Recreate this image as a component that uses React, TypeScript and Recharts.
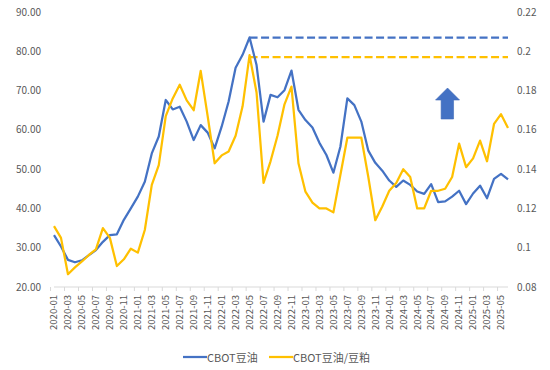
import React from "react";
import {
  LineChart,
  Line,
  XAxis,
  YAxis,
  Legend,
  ReferenceLine,
  ReferenceDot,
} from "recharts";

const months = [
  "2020-01", "2020-02", "2020-03", "2020-04", "2020-05", "2020-06", "2020-07", "2020-08", "2020-09", "2020-10", "2020-11", "2020-12",
  "2021-01", "2021-02", "2021-03", "2021-04", "2021-05", "2021-06", "2021-07", "2021-08", "2021-09", "2021-10", "2021-11", "2021-12",
  "2022-01", "2022-02", "2022-03", "2022-04", "2022-05", "2022-06", "2022-07", "2022-08", "2022-09", "2022-10", "2022-11", "2022-12",
  "2023-01", "2023-02", "2023-03", "2023-04", "2023-05", "2023-06", "2023-07", "2023-08", "2023-09", "2023-10", "2023-11", "2023-12",
  "2024-01", "2024-02", "2024-03", "2024-04", "2024-05", "2024-06", "2024-07", "2024-08", "2024-09", "2024-10", "2024-11", "2024-12",
  "2025-01", "2025-02", "2025-03", "2025-04", "2025-05", "2025-06",
];

// CBOT豆油 (left axis)
const soyOil = [
  33.2, 30.3, 26.9, 26.3, 26.8, 28.1, 29.4, 31.5, 33.2, 33.4, 37.1, 40.0,
  43.0, 46.8, 54.0, 58.3, 67.6, 65.2, 65.9, 62.1, 57.4, 61.2, 59.3, 55.3,
  60.8, 67.2, 75.8, 79.1, 83.5, 76.5, 62.1, 68.9, 68.3, 70.1, 75.1, 65.1,
  62.5, 60.6, 56.7, 53.6, 49.1, 55.7, 68.0, 66.3, 62.1, 54.7, 51.6, 49.6,
  47.1, 45.5, 47.1, 46.0, 44.3, 43.7, 46.2, 41.6, 41.8, 43.0, 44.5, 41.1,
  43.8, 45.8, 42.6, 47.5, 48.8, 47.4,
];

// CBOT豆油/豆粕 (right axis)
const oilMealRatio = [
  0.111, 0.105, 0.0865, 0.09, 0.093, 0.0963, 0.0992, 0.11, 0.105, 0.0907, 0.0941, 0.0995,
  0.0975, 0.109, 0.132, 0.142, 0.167, 0.176, 0.183, 0.175, 0.17, 0.19, 0.167, 0.143,
  0.147, 0.149, 0.157, 0.172, 0.198, 0.179, 0.133, 0.144, 0.157, 0.173, 0.182, 0.143,
  0.1285, 0.123, 0.12, 0.12, 0.118, 0.137, 0.156, 0.156, 0.156, 0.136, 0.114, 0.121,
  0.129, 0.133, 0.14, 0.136, 0.12, 0.12, 0.129, 0.129, 0.13, 0.136, 0.153, 0.141,
  0.1455, 0.1545, 0.144, 0.163, 0.168, 0.161,
];

const leftTicks = [20, 30, 40, 50, 60, 70, 80, 90];
const rightTicks = [0.08, 0.1, 0.12, 0.14, 0.16, 0.18, 0.2, 0.22];

const seriesNames = ["CBOT豆油", "CBOT豆油/豆粕"];

// dashed peak lines
const peakOil = 83.5;
const peakRatio = 0.197;
const peakStart = "2022-05";
const peakEnd = "2025-06";

// arrow anchor
const arrowMonth = "2024-09";
const arrowValue = 67.6;

const data = months.map((m, i) => ({
  month: m,
  oil: soyOil[i],
  ratio: oilMealRatio[i],
}));

const BLUE = "#4472C4";
const YELLOW = "#FFC000";
const TEXT = "#595959";
const FONT = "'Noto Sans CJK SC', 'Noto Sans', sans-serif";

const W = 550;
const H = 370;
const HALF_BAND = 454 / 66 / 2;

const XTick = (props: any) => {
  const { x, y, payload } = props;
  return (
    <g>
      <line
        x1={x - HALF_BAND}
        x2={x - HALF_BAND}
        y1={y - 8}
        y2={y - 4}
        stroke="#D9D9D9"
        strokeWidth={1}
      />
      <text
        x={x}
        y={y}
        transform={`rotate(-90 ${x} ${y})`}
        textAnchor="end"
        dy="0.35em"
        fontSize={9.5}
        fontFamily={FONT}
        fill={TEXT}
      >
        {payload.value}
      </text>
    </g>
  );
};

const Arrow = (props: any) => {
  const { cx, cy } = props;
  if (cx == null || cy == null) return null;
  const pts = [
    [cx + 2.4, cy - 12],
    [cx + 14.4, cy],
    [cx + 8.4, cy],
    [cx + 8.4, cy + 19],
    [cx - 4, cy + 19],
    [cx - 4, cy],
    [cx - 9.6, cy],
  ]
    .map((p) => p.join(","))
    .join(" ");
  return <polygon points={pts} fill={BLUE} stroke="#3F6AB8" strokeWidth={0.6} />;
};

const LegendContent = () => (
  <div
    style={{
      position: "relative",
      height: 18,
      width: W,
      fontFamily: FONT,
      fontSize: 11,
      color: TEXT,
    }}
  >
    {[
      { name: seriesNames[0], color: BLUE, left: 183 },
      { name: seriesNames[1], color: YELLOW, left: 269 },
    ].map((it) => (
      <div
        key={it.name}
        style={{
          position: "absolute",
          left: it.left,
          top: 0,
          display: "flex",
          alignItems: "center",
          height: 18,
          whiteSpace: "nowrap",
        }}
      >
        <svg width={24} height={18} style={{ display: "block" }}>
          <line x1={0} x2={24} y1={9} y2={9} stroke={it.color} strokeWidth={2.25} />
        </svg>
        <span>{it.name}</span>
      </div>
    ))}
  </div>
);

export default function App() {
  return (
    <div
      style={{
        position: "absolute",
        left: 0,
        top: 0,
        width: W,
        height: H,
        background: "#fff",
      }}
    >
      <LineChart
        width={W}
        height={H}
        data={data}
        margin={{ top: 12, right: 0, left: 0, bottom: 0 }}
      >
        <XAxis
          dataKey="month"
          xAxisId="x"
          height={83}
          interval={1}
          tickSize={4}
          tickMargin={4}
          tickLine={false}
          axisLine={{ stroke: "#D9D9D9", strokeWidth: 1 }}
          tick={<XTick />}
        />
        <YAxis
          yAxisId="left"
          orientation="left"
          width={54}
          domain={[20, 90]}
          ticks={leftTicks}
          tickFormatter={(v: number) => v.toFixed(2)}
          axisLine={false}
          tickLine={false}
          tickSize={6}
          tickMargin={7}
          tick={{ fontSize: 10, fill: TEXT, fontFamily: FONT }}
        />
        <YAxis
          yAxisId="right"
          orientation="right"
          width={42}
          domain={[0.08, 0.22]}
          ticks={rightTicks}
          tickFormatter={(v: number) => String(v)}
          axisLine={false}
          tickLine={false}
          tickSize={6}
          tickMargin={3}
          tick={{ fontSize: 10, fill: TEXT, fontFamily: FONT }}
        />
        <ReferenceLine
          xAxisId="x"
          yAxisId="left"
          segment={[
            { x: peakStart, y: peakOil },
            { x: peakEnd, y: peakOil },
          ]}
          stroke={BLUE}
          strokeWidth={2.25}
          strokeDasharray="8 3.5"
          ifOverflow="visible"
        />
        <ReferenceLine
          xAxisId="x"
          yAxisId="right"
          segment={[
            { x: peakStart, y: peakRatio },
            { x: peakEnd, y: peakRatio },
          ]}
          stroke={YELLOW}
          strokeWidth={2.25}
          strokeDasharray="8 3.5"
          ifOverflow="visible"
        />
        <Line
          xAxisId="x"
          yAxisId="left"
          dataKey="oil"
          name={seriesNames[0]}
          stroke={BLUE}
          strokeWidth={2.25}
          dot={false}
          activeDot={false}
          isAnimationActive={false}
          strokeLinejoin="round"
        />
        <Line
          xAxisId="x"
          yAxisId="right"
          dataKey="ratio"
          name={seriesNames[1]}
          stroke={YELLOW}
          strokeWidth={2.25}
          dot={false}
          activeDot={false}
          isAnimationActive={false}
          strokeLinejoin="round"
        />
        <ReferenceDot
          xAxisId="x"
          yAxisId="left"
          x={arrowMonth}
          y={arrowValue}
          ifOverflow="visible"
          shape={<Arrow />}
        />
        <Legend
          verticalAlign="middle"
          layout="horizontal"
          content={<LegendContent />}
          wrapperStyle={{ top: 348, left: 0, width: W, height: 18 }}
        />
      </LineChart>
    </div>
  );
}
